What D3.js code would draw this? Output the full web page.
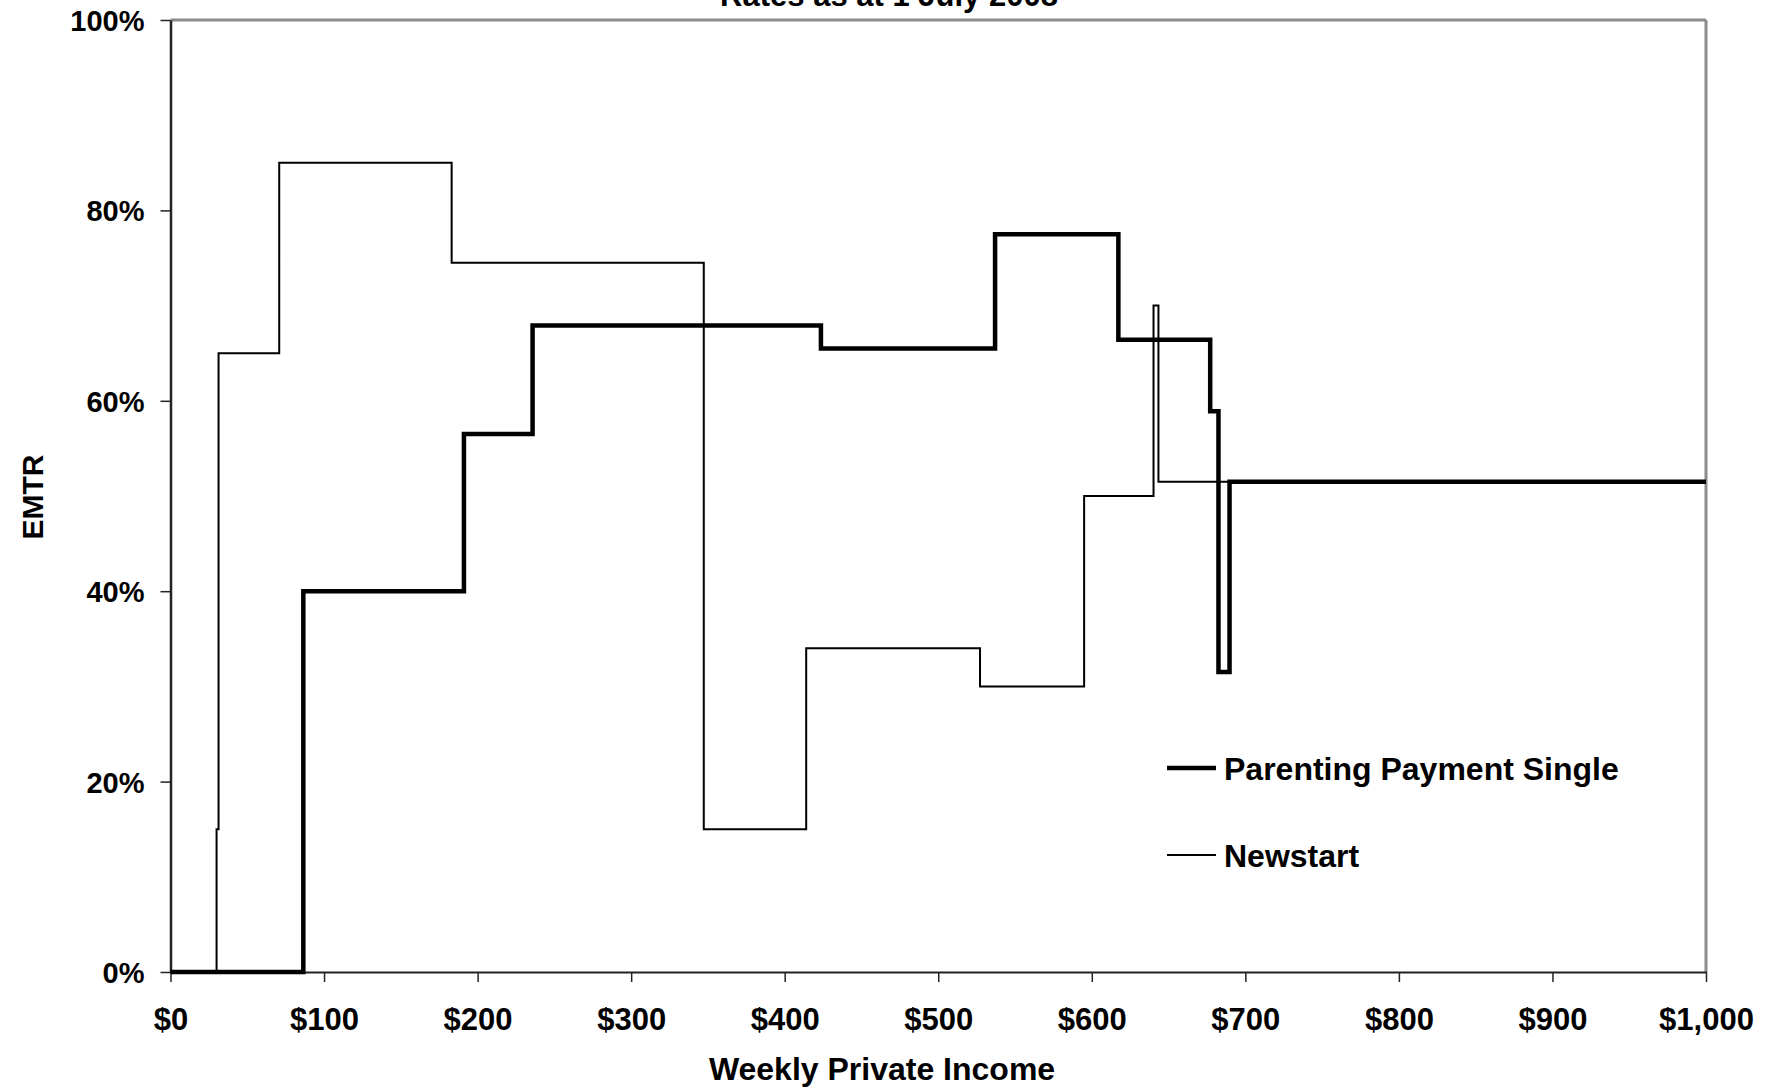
<!DOCTYPE html>
<html>
<head>
<meta charset="utf-8">
<script src="https://cdn.jsdelivr.net/npm/d3@7"></script>
<style>
  html, body { margin: 0; padding: 0; background: #fff; }
  svg text { font-family: "Liberation Sans", Arial, sans-serif; font-weight: bold; fill: #000; }
</style>
</head>
<body>
<svg id="chart" width="1771" height="1092"></svg>
<script>
// ---- data ----
const title = "Rates as at 1 July 2008";
const xAxisTitle = "Weekly Private Income";
const yAxisTitle = "EMTR";
const seriesNames = ["Parenting Payment Single", "Newstart"];

// step breakpoints (weekly income $) and EMTR (%) from each breakpoint onward
const ppsIncome = [0, 86.5, 191.1, 235.8, 423.6, 537.0, 617.3, 677.1, 682.5, 689.7, 1000];
const ppsEMTR   = [0, 40,   56.5,  67.9,  65.5,  77.5,  66.4,  58.9,  31.5,  51.5,  51.5];

const nsIncome = [0, 30, 31.3, 70.8, 183.1, 347.3, 414.0, 527.2, 595.0, 640.2, 643.4, 1000];
const nsEMTR   = [0, 15, 65,   85,   74.5,  15,    34,    30,    50,    70,    51.5,  51.5];

const xTickValues = [0, 100, 200, 300, 400, 500, 600, 700, 800, 900, 1000];
const xTickLabels = ["$0", "$100", "$200", "$300", "$400", "$500", "$600", "$700", "$800", "$900", "$1,000"];
const yTickValues = [0, 20, 40, 60, 80, 100];
const yTickLabels = ["0%", "20%", "40%", "60%", "80%", "100%"];

// ---- layout ----
const W = 1771, H = 1092;
const plot = { left: 170.5, right: 1706, top: 20, bottom: 972 };

const svg = d3.select("#chart");
const x = d3.scaleLinear().domain([0, 1000]).range([plot.left, plot.right]);
const y = d3.scaleLinear().domain([0, 100]).range([plot.bottom, plot.top]);

// frame (top & right, gray)
svg.append("line").attr("x1", plot.left).attr("x2", plot.right).attr("y1", plot.top).attr("y2", plot.top)
  .attr("stroke", "#8c8c8c").attr("stroke-width", 3);
svg.append("line").attr("x1", plot.right).attr("x2", plot.right).attr("y1", plot.top).attr("y2", plot.bottom)
  .attr("stroke", "#8c8c8c").attr("stroke-width", 3);

// axes
const xAxis = d3.axisBottom(x).tickValues(xTickValues)
  .tickFormat((d, i) => xTickLabels[i]).tickSize(10).tickSizeOuter(0).tickPadding(25);
const gx = svg.append("g").attr("transform", `translate(0,${plot.bottom})`).call(xAxis);
gx.select(".domain").attr("stroke", "#222").attr("stroke-width", 2);
gx.selectAll(".tick line").attr("stroke", "#222").attr("stroke-width", 1.5);
gx.selectAll(".tick text").style("font-size", "31px").attr("dy", "0.75em");

const yAxis = d3.axisLeft(y).tickValues(yTickValues)
  .tickFormat((d, i) => yTickLabels[i]).tickSize(10).tickSizeOuter(0).tickPadding(16);
const gy = svg.append("g").attr("transform", `translate(${plot.left},0)`).call(yAxis);
gy.select(".domain").attr("stroke", "#222").attr("stroke-width", 2.5);
gy.selectAll(".tick line").attr("stroke", "#222").attr("stroke-width", 1.5);
gy.selectAll(".tick text").style("font-size", "29px").attr("dy", "0.36em");

// series
const line = d3.line().x(d => x(d[0])).y(d => y(d[1])).curve(d3.curveStepAfter);
const ppsData = ppsIncome.map((v, i) => [v, ppsEMTR[i]]);
const nsData = nsIncome.map((v, i) => [v, nsEMTR[i]]);

svg.append("path").datum(nsData).attr("d", line)
  .attr("fill", "none").attr("stroke", "#000").attr("stroke-width", 2);
svg.append("path").datum(ppsData).attr("d", line)
  .attr("fill", "none").attr("stroke", "#000").attr("stroke-width", 4.5);

// titles
svg.append("text").attr("x", 889).attr("y", 6).attr("text-anchor", "middle")
  .style("font-size", "31px").text(title);
svg.append("text").attr("x", 882).attr("y", 1080).attr("text-anchor", "middle")
  .style("font-size", "32px").text(xAxisTitle);
svg.append("text").attr("transform", "translate(43,497) rotate(-90)").attr("text-anchor", "middle")
  .style("font-size", "30px").text(yAxisTitle);

// legend
const legend = [
  { name: seriesNames[0], w: 4.5, y: 768 },
  { name: seriesNames[1], w: 2, y: 855 }
];
const lg = svg.append("g");
legend.forEach(l => {
  lg.append("line").attr("x1", 1167).attr("x2", 1216).attr("y1", l.y).attr("y2", l.y)
    .attr("stroke", "#000").attr("stroke-width", l.w);
  lg.append("text").attr("x", 1224).attr("y", l.y).attr("dy", "0.36em")
    .style("font-size", "32px").text(l.name);
});
</script>
</body>
</html>
